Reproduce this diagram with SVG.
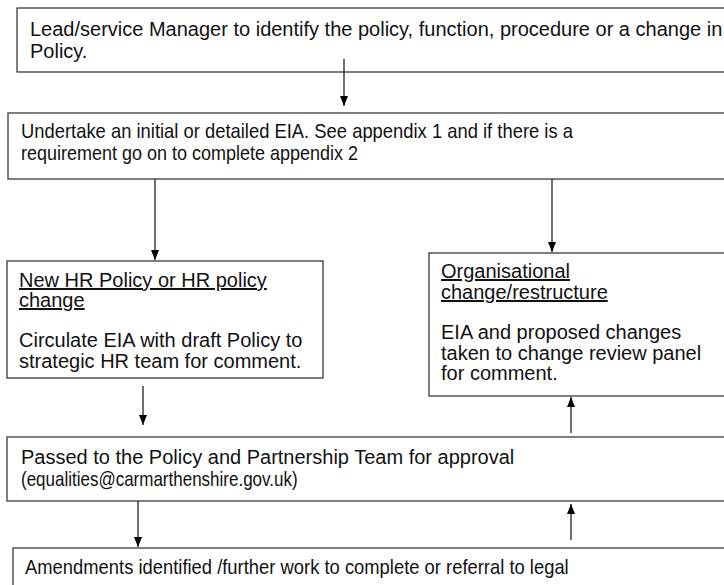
<svg xmlns="http://www.w3.org/2000/svg" width="724" height="585" viewBox="0 0 724 585">
<style>
.box{fill:#fff;stroke:#3a3a3a;stroke-width:1.3}
.t{font-family:"Liberation Sans",Arial,sans-serif;font-size:20px;fill:#111}
.u{text-decoration:underline}
.c{stroke:#222;stroke-width:1.3;fill:none;marker-end:url(#ah)}
</style>
<defs>
<marker id="ah" viewBox="0 0 10 10" refX="10" refY="5" markerWidth="10" markerHeight="10" markerUnits="userSpaceOnUse" orient="auto">
<path d="M0,1 L10,5 L0,9 Z" fill="#000"/>
</marker>
</defs>
<rect width="724" height="585" fill="#fff"/>
<g id="n1">
<rect class="box" x="17" y="8" width="720" height="64"/>
<text class="t" x="30" y="36">Lead/service Manager to identify the policy, function, procedure or a change in</text>
<text class="t" x="30" y="58">Policy.</text>
</g>
<g id="n2">
<rect class="box" x="8" y="113" width="730" height="66"/>
<text class="t" transform="translate(21,138) scale(0.92,1)">Undertake an initial or detailed EIA. See appendix 1 and if there is a</text>
<text class="t" transform="translate(21,160) scale(0.9,1)">requirement go on to complete appendix 2</text>
</g>
<g id="n3">
<rect class="box" x="7" y="261" width="316" height="117"/>
<text class="t u" x="19" y="287">New HR Policy or HR policy</text>
<text class="t u" x="19" y="307">change</text>
<text class="t" x="19" y="347">Circulate EIA with draft Policy to</text>
<text class="t" x="19" y="368">strategic HR team for comment.</text>
</g>
<g id="n4">
<rect class="box" x="429" y="253" width="310" height="143"/>
<text class="t u" x="441" y="278">Organisational</text>
<text class="t u" x="441" y="299">change/restructure</text>
<text class="t" x="441" y="339">EIA and proposed changes</text>
<text class="t" x="441" y="360">taken to change review panel</text>
<text class="t" x="441" y="380">for comment.</text>
</g>
<g id="n5">
<rect class="box" x="7" y="437" width="730" height="64"/>
<text class="t" x="21" y="464">Passed to the Policy and Partnership Team for approval</text>
<text class="t" transform="translate(21,486) scale(0.85,1)">(equalities@carmarthenshire.gov.uk)</text>
</g>
<g id="n6">
<rect class="box" x="13" y="548" width="730" height="60"/>
<text class="t" transform="translate(25,574) scale(0.92,1)">Amendments identified /further work to complete or referral to legal</text>
</g>
<g id="connectors">
<line class="c" x1="344" y1="59" x2="344" y2="106"/>
<line class="c" x1="155" y1="179" x2="155" y2="260"/>
<line class="c" x1="552" y1="179" x2="552" y2="252"/>
<line class="c" x1="143" y1="386" x2="143" y2="425"/>
<line class="c" x1="571" y1="433" x2="571" y2="397"/>
<line class="c" x1="138" y1="501" x2="138" y2="547"/>
<line class="c" x1="571" y1="540" x2="571" y2="504"/>
</g>
</svg>
